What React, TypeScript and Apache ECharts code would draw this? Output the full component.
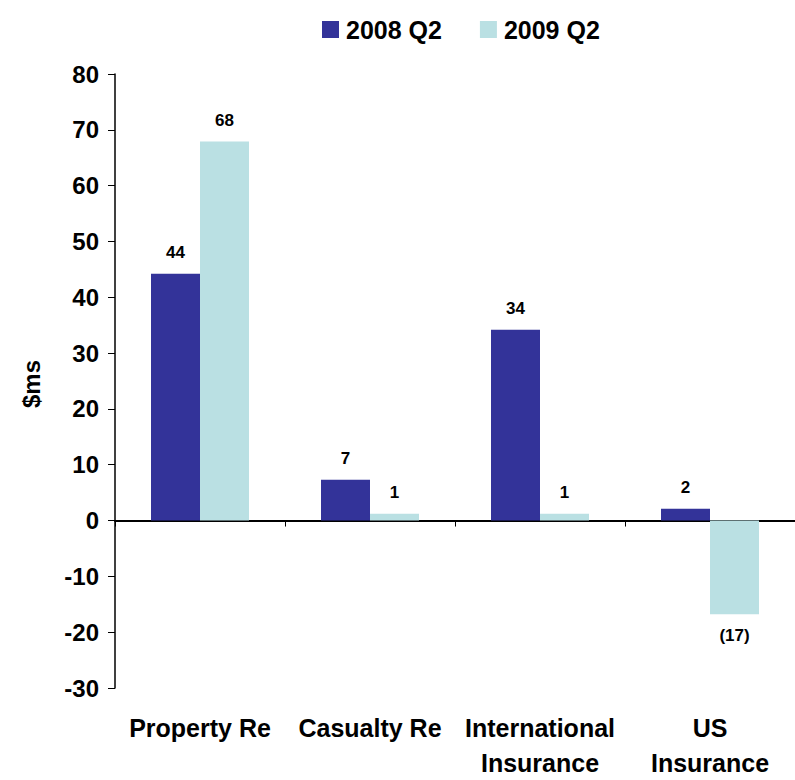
import React, { useEffect, useRef } from "react";
import * as echarts from "echarts";

const categories = ["Property Re", "Casualty Re", "International\nInsurance", "US\nInsurance"];
const seriesNames = ["2008 Q2", "2009 Q2"];
const values2008 = [44.2, 7.3, 34.2, 2.1];
const values2009 = [67.9, 1.2, 1.2, -16.8];
const colors = ["#333399", "#BAE0E3"];
const yAxisTitle = "$ms";

const FONT = "'Liberation Sans', Arial, sans-serif";

const fmt = (v: number) => {
  const r = Math.round(Math.abs(v));
  return v < 0 ? `(${r})` : `${r}`;
};

const buildData = (vals: number[]) =>
  vals.map((v) => ({
    value: v,
    label: { position: v < 0 ? "bottom" : "top" },
  }));

export default function App() {
  const ref = useRef<HTMLDivElement>(null);
  useEffect(() => {
    if (!ref.current) return;
    const chart = echarts.init(ref.current, undefined, { renderer: "svg" });
    const labelStyle = {
      show: true,
      fontFamily: FONT,
      fontWeight: "bold",
      fontSize: 17,
      color: "#000",
      distance: 13,
      formatter: (p: any) => fmt(p.value),
    };
    chart.setOption({
      animation: false,
      backgroundColor: "#fff",
      legend: {
        left: 317,
        top: 12,
        itemWidth: 17,
        itemHeight: 17,
        itemGap: 38,
        icon: "rect",
        textStyle: {
          fontFamily: FONT,
          fontWeight: "bold",
          fontSize: 25,
          color: "#000",
          padding: [0, 0, 0, 2],
        },
        data: seriesNames,
      },
      graphic: [
        {
          type: "text",
          x: 31,
          y: 384,
          rotation: Math.PI / 2,
          style: {
            text: yAxisTitle,
            fontFamily: FONT,
            fontWeight: "bold",
            fontSize: 24,
            fill: "#000",
            align: "center",
            verticalAlign: "middle",
          },
        },
      ],
      grid: { left: 115, right: -4, top: 74, bottom: 86, containLabel: false },
      xAxis: [
        {
          type: "category",
          data: categories,
          position: "bottom",
          axisLine: { show: false, onZero: false },
          axisTick: { show: false },
          axisLabel: {
            fontFamily: FONT,
            fontWeight: "bold",
            fontSize: 25,
            color: "#000",
            margin: 22,
            lineHeight: 35,
            interval: 0,
          },
        },
        {
          type: "category",
          data: categories,
          position: "bottom",
          axisLine: { show: true, onZero: true, lineStyle: { color: "#000", width: 2 } },
          axisTick: { show: true, length: 6, lineStyle: { color: "#000", width: 1 } },
          axisLabel: { show: false },
        },
      ],
      yAxis: {
        type: "value",
        min: -30,
        max: 80,
        interval: 10,
        axisLine: { show: true, lineStyle: { color: "#000", width: 1.5 } },
        axisTick: { show: true, length: 7, lineStyle: { color: "#000" } },
        splitLine: { show: false },
        axisLabel: {
          fontFamily: FONT,
          fontWeight: "bold",
          fontSize: 24,
          color: "#000",
          margin: 16,
        },
      },
      series: [
        {
          name: seriesNames[0],
          type: "bar",
          xAxisIndex: 0,
          data: buildData(values2008),
          barWidth: 49,
          barGap: "0%",
          itemStyle: { color: colors[0] },
          label: labelStyle,
        },
        {
          name: seriesNames[1],
          type: "bar",
          xAxisIndex: 0,
          data: buildData(values2009),
          barWidth: 49,
          barGap: "0%",
          itemStyle: { color: colors[1] },
          label: labelStyle,
        },
      ],
    });
    return () => chart.dispose();
  }, []);
  return (
    <div
      ref={ref}
      style={{ position: "absolute", left: 0, top: 0, width: 795, height: 780 }}
    />
  );
}
